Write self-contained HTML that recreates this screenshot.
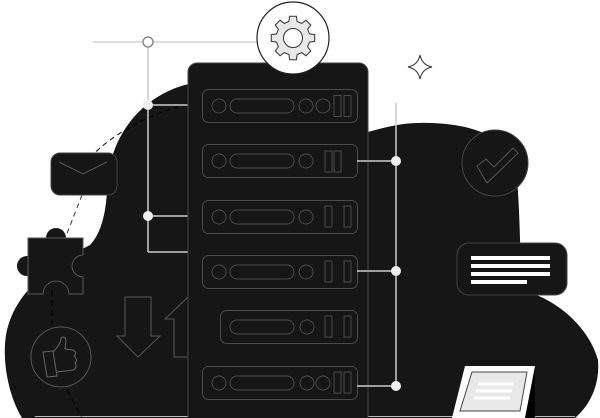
<!DOCTYPE html>
<html><head><meta charset="utf-8"><style>html,body{margin:0;padding:0;background:#fff}svg{display:block}</style></head>
<body>
<svg width="600" height="418" viewBox="0 0 600 418" xmlns="http://www.w3.org/2000/svg">
<!-- cloud -->
<path d="M22,418 C8,395 2,360 6,335 C12,300 40,270 90,245 C100,235 106,215 107,190 C108,130 150,88 200,82 L368,82 L368,132 C390,126 405,122 430,123 C470,124 505,135 515,165 C520,190 520,260 522,290 C560,300 590,330 598,360 C600,385 590,405 575,418 Z" fill="#161616"/>
<line x1="35" y1="416.5" x2="575" y2="416.5" stroke="#bbb" stroke-width="1"/>
<!-- dashed links -->
<path d="M205,100 C150,110 100,140 80,170" fill="none" stroke="#000" stroke-width="1" stroke-dasharray="5,4"/>
<path d="M82,195 L66,236" fill="none" stroke="#333" stroke-width="1" stroke-dasharray="5,4"/>
<line x1="52" y1="290" x2="52" y2="328" stroke="#000" stroke-width="1" stroke-dasharray="6,4"/>
<line x1="67" y1="390" x2="82" y2="418" stroke="#000" stroke-width="1" stroke-dasharray="6,4"/>
<!-- left connectors -->
<line x1="93" y1="42" x2="258" y2="42" stroke="#ddd" stroke-width="2"/>
<line x1="148" y1="42" x2="148" y2="252" stroke="#ccc" stroke-width="1.5"/>
<polyline points="148,252 188,252" stroke="#ccc" stroke-width="1.5" fill="none"/>
<line x1="148" y1="105" x2="188" y2="105" stroke="#ccc" stroke-width="1.5"/>
<line x1="148" y1="216" x2="188" y2="216" stroke="#ccc" stroke-width="1.5"/>
<circle cx="148" cy="42" r="5" fill="#fff" stroke="#777" stroke-width="1.2"/>
<circle cx="148" cy="105" r="5" fill="#eee"/>
<circle cx="148" cy="216" r="5" fill="#eee"/>
<!-- envelope -->
<rect x="51" y="153" width="66" height="42" rx="9" fill="#161616" stroke="#444" stroke-width="1"/>
<polyline points="59,162 83,174 107,162" fill="none" stroke="#555" stroke-width="1"/>
<!-- puzzle -->
<circle cx="56" cy="238" r="10" fill="#161616"/>
<circle cx="27" cy="266" r="10" fill="#161616"/>
<path d="M28,238 L83,238 L83,255 A11,11 0 0 0 83,277 L83,294 L69,294 A13,13 0 0 0 43,294 L28,294 Z" fill="#161616" stroke="#555" stroke-width="1"/>
<!-- like -->
<circle cx="61" cy="357" r="30" fill="none" stroke="#555" stroke-width="1"/>
<path d="M43,352 L53,351 L57,376 L47,377 Z" fill="none" stroke="#666" stroke-width="1"/>
<path d="M53,352 C58,347 61,342 61,338 C63,336 66,337 66,341 L65,349 L73,350 C76,351 76,355 74,356 C77,358 77,362 75,363 C77,366 76,369 73,370 L57,372" fill="none" stroke="#666" stroke-width="1"/>
<!-- arrows -->
<path d="M125,297 L151,297 L151,336 L160,336 L138,357 L117,336 L125,336 Z" fill="none" stroke="#555" stroke-width="1"/>
<path d="M187,298 L209,319 L200,319 L200,357 L174,357 L174,319 L165,319 Z" fill="#161616" stroke="#555" stroke-width="1"/>
<!-- server panel -->
<rect x="188" y="63" width="180" height="370" rx="9" fill="#161616" stroke="#444" stroke-width="1"/>
<g fill="none" stroke="#4a4a4a" stroke-width="1">
 <rect x="202.5" y="89.5" width="155" height="33" rx="6"/>
 <circle cx="219" cy="106" r="7"/><rect x="230" y="99" width="64" height="14" rx="7"/>
 <circle cx="306" cy="106" r="7"/><circle cx="323" cy="106" r="7"/>
 <rect x="334" y="95.5" width="7" height="21"/><rect x="344" y="95.5" width="7" height="21"/>

 <rect x="202.5" y="144.5" width="155" height="33" rx="6"/>
 <circle cx="219" cy="161" r="7"/><rect x="230" y="154" width="64" height="14" rx="7"/>
 <circle cx="306" cy="161" r="7"/>
 <rect x="325" y="151" width="7" height="21"/><rect x="334" y="151" width="7" height="21"/>

 <rect x="202.5" y="200.5" width="155" height="33" rx="6"/>
 <circle cx="219" cy="217" r="7"/><rect x="230" y="210" width="64" height="14" rx="7"/>
 <circle cx="306" cy="217" r="7"/>
 <rect x="325" y="206" width="7" height="21"/><rect x="344" y="206" width="7" height="21"/>

 <rect x="202.5" y="255.5" width="155" height="33" rx="6"/>
 <circle cx="219" cy="272" r="7"/><rect x="230" y="265" width="64" height="14" rx="7"/>
 <circle cx="306" cy="272" r="7"/>
 <rect x="325" y="261" width="7" height="21"/><rect x="344" y="261" width="7" height="21"/>

 <rect x="220.5" y="310.5" width="137" height="33" rx="6"/>
 <rect x="230" y="320" width="64" height="14" rx="7"/>
 <circle cx="307" cy="327" r="7"/>
 <rect x="325" y="316" width="7" height="21"/><rect x="344" y="316" width="7" height="21"/>

 <rect x="202.5" y="366.5" width="155" height="33" rx="6"/>
 <circle cx="219" cy="383" r="7"/><rect x="230" y="376" width="64" height="14" rx="7"/>
 <circle cx="307" cy="383" r="7"/><circle cx="323" cy="383" r="7"/>
 <rect x="334" y="372" width="7" height="21"/><rect x="344" y="372" width="7" height="21"/>
</g>
<!-- right connectors -->
<line x1="396" y1="103" x2="396" y2="386" stroke="#ccc" stroke-width="1.5"/>
<line x1="357" y1="161" x2="396" y2="161" stroke="#ccc" stroke-width="1.5"/>
<line x1="357" y1="271" x2="396" y2="271" stroke="#ccc" stroke-width="1.5"/>
<line x1="357" y1="386" x2="396" y2="386" stroke="#ccc" stroke-width="1.5"/>
<circle cx="396" cy="161" r="5" fill="#eee"/>
<circle cx="396" cy="271" r="5" fill="#eee"/>
<circle cx="396" cy="386" r="5" fill="#eee"/>
<!-- gear -->
<circle cx="293" cy="38" r="36" fill="#fff" stroke="#222" stroke-width="1.2"/>
<g transform="translate(293,38)">
 <polygon fill="#e8e8e8" stroke="#333" stroke-width="1" points="16.5,-4.1 21.7,-3.4 21.7,3.4 16.5,4.1 14.6,8.8 17.8,12.9 12.9,17.8 8.8,14.6 4.1,16.5 3.4,21.7 -3.4,21.7 -4.1,16.5 -8.8,14.6 -12.9,17.8 -17.8,12.9 -14.6,8.8 -16.5,4.1 -21.7,3.4 -21.7,-3.4 -16.5,-4.1 -14.6,-8.8 -17.8,-12.9 -12.9,-17.8 -8.8,-14.6 -4.1,-16.5 -3.4,-21.7 3.4,-21.7 4.1,-16.5 8.8,-14.6 12.9,-17.8 17.8,-12.9 14.6,-8.8"/>
 <circle r="9.5" fill="#fff" stroke="#333" stroke-width="1"/>
</g>
<!-- sparkle -->
<path d="M420,55 Q422,65 432,67 Q422,69 420,79 Q418,69 408,67 Q418,65 420,55 Z" fill="#fff" stroke="#333" stroke-width="1"/>
<!-- check -->
<circle cx="495" cy="163" r="33" fill="#161616" stroke="#444" stroke-width="1"/>
<path d="M477,166 L486,159 L494,167 L513,148 L518,153 L487,183 Z" fill="none" stroke="#555" stroke-width="1" stroke-linejoin="round"/>
<!-- text card -->
<rect x="457" y="243" width="110" height="52" rx="12" fill="#161616" stroke="#444" stroke-width="1"/>
<g fill="#fff"><rect x="471" y="256" width="79" height="4"/><rect x="471" y="264" width="79" height="4"/><rect x="471" y="272" width="79" height="4"/><rect x="471" y="280" width="56" height="4"/></g>
<!-- laptop -->
<polygon points="525,380 535,366 535,418 522,418" fill="#000"/>
<polygon points="465,366 535,366 525,418 452,418" fill="#fff"/>
<polygon points="472,372 527,372 520,411 460,411" fill="#e8e8e8" stroke="#444" stroke-width="1"/>
<g stroke="#fff" stroke-width="3"><line x1="478" y1="384" x2="514" y2="384"/><line x1="476" y1="391" x2="512" y2="391"/><line x1="474" y1="398" x2="510" y2="398"/></g>
</svg>
</body></html>
